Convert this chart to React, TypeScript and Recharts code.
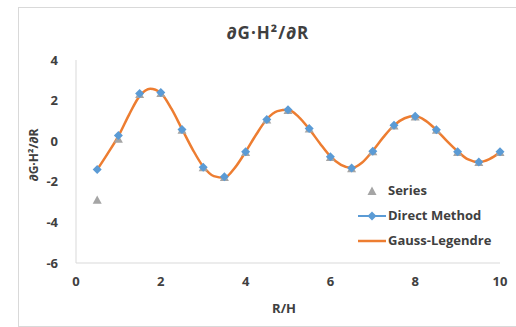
import React from 'react';
import { ComposedChart, Line, Scatter, XAxis, YAxis } from 'recharts';

// Sample positions R/H for the discrete methods
const rh = [0.5, 1, 1.5, 2, 2.5, 3, 3.5, 4, 4.5, 5, 5.5, 6, 6.5, 7, 7.5, 8, 8.5, 9, 9.5, 10];

// Direct method derivative values
const directMethod = [-1.4, 0.28, 2.35, 2.4, 0.58, -1.28, -1.75, -0.52, 1.07, 1.55, 0.62, -0.77, -1.32, -0.5, 0.78, 1.23, 0.57, -0.52, -1.02, -0.52];

// Plain series (mostly hidden beneath the direct method markers)
const seriesValues = [-2.9, 0.1, 2.3, 2.35, 0.55, -1.3, -1.78, -0.55, 1.05, 1.52, 0.6, -0.8, -1.35, -0.52, 0.75, 1.2, 0.55, -0.55, -1.05, -0.55];

// Gauss-Legendre quadrature, finer sampling
const gaussRh = [0.5, 0.75, 1, 1.25, 1.5, 1.75, 2, 2.25, 2.5, 2.75, 3, 3.25, 3.5, 3.75, 4, 4.25, 4.5, 4.75, 5, 5.25, 5.5, 5.75, 6, 6.25, 6.5, 6.75, 7, 7.25, 7.5, 7.75, 8, 8.25, 8.5, 8.75, 9, 9.25, 9.5, 9.75, 10];
const gaussValues = [-1.4, -0.6, 0.25, 1.3, 2.22, 2.58, 2.38, 1.6, 0.6, -0.4, -1.25, -1.72, -1.8, -1.3, -0.52, 0.33, 1.08, 1.48, 1.55, 1.2, 0.6, -0.1, -0.75, -1.17, -1.32, -1.05, -0.47, 0.2, 0.78, 1.13, 1.24, 1.0, 0.55, 0.0, -0.5, -0.9, -1.03, -0.88, -0.55];

const xTicks = [0, 2, 4, 6, 8, 10];
const yTicks = [-6, -4, -2, 0, 2, 4];

const BLUE = '#5B9BD5';
const ORANGE = '#ED7D31';
const GRAY = '#A5A5A5';
const TEXT = '#404040';
const FONT = '"Open Sans", "DejaVu Sans", sans-serif';

const directData = rh.map((x, i) => ({ x, y: directMethod[i] }));
const seriesData = rh.map((x, i) => ({ x, y: seriesValues[i] }));
const gaussData = gaussRh.map((x, i) => ({ x, y: gaussValues[i] }));

const Diamond = ({ cx, cy }: { cx?: number; cy?: number }) => {
  if (cx == null || cy == null) return null;
  const r = 4.5;
  return <polygon points={`${cx},${cy - r} ${cx + r},${cy} ${cx},${cy + r} ${cx - r},${cy}`} fill={BLUE} />;
};

const Triangle = ({ cx, cy }: { cx?: number; cy?: number }) => {
  if (cx == null || cy == null) return null;
  const r = 4.5;
  return <polygon points={`${cx},${cy - r} ${cx + r},${cy + r * 0.8} ${cx - r},${cy + r * 0.8}`} fill={GRAY} />;
};

const tickStyle = { fill: TEXT, fontSize: 13, fontWeight: 700, fontFamily: FONT };

export default function App() {
  return (
    <div style={{ position: 'absolute', left: 0, top: 0, width: 516, height: 327, background: '#fff', fontFamily: FONT, overflow: 'hidden' }}>
      <div style={{ position: 'absolute', left: 18, top: 7, width: 520, height: 318, border: '1px solid #D9D9D9' }} />
      <div style={{ position: 'absolute', left: 0, width: 536, top: 21, textAlign: 'center', fontSize: 17, fontWeight: 700, letterSpacing: 1, color: TEXT }}>
        ∂G·H²/∂R
      </div>
      <div style={{ position: 'absolute', left: 33, top: 155, transform: 'translate(-50%, -50%) rotate(-90deg)', whiteSpace: 'nowrap', fontSize: 12, fontWeight: 700, color: TEXT }}>
        ∂G·H²/∂R
      </div>
      <div style={{ position: 'absolute', left: 0, width: 568, top: 299, textAlign: 'center', fontSize: 13, fontWeight: 700, color: TEXT }}>
        R/H
      </div>
      <ComposedChart width={516} height={327} margin={{ top: 60, right: 16, bottom: 34, left: 36 }} style={{ position: 'absolute', left: 0, top: 0 }}>
        <XAxis
          type="number"
          dataKey="x"
          domain={[0, 10]}
          ticks={xTicks}
          height={30}
          tickSize={0}
          tickMargin={14}
          tickLine={false}
          axisLine={{ stroke: '#D9D9D9' }}
          tick={tickStyle}
          allowDuplicatedCategory={false}
        />
        <YAxis
          type="number"
          domain={[-6, 4]}
          ticks={yTicks}
          width={40}
          tickSize={0}
          tickMargin={18}
          tickLine={false}
          axisLine={{ stroke: '#D9D9D9' }}
          tick={tickStyle}
        />
        <Scatter data={seriesData} dataKey="y" shape={<Triangle />} isAnimationActive={false} />
        <Line data={directData} dataKey="y" type="monotone" stroke="none" strokeWidth={0} dot={<Diamond />} activeDot={false} isAnimationActive={false} />
        <Line data={gaussData} dataKey="y" type="monotone" stroke={ORANGE} strokeWidth={2.5} dot={false} activeDot={false} isAnimationActive={false} />
      </ComposedChart>
      <div style={{ position: 'absolute', left: 356, top: 178, fontSize: 13, fontWeight: 700, color: TEXT, lineHeight: '25px' }}>
        <div style={{ display: 'flex', alignItems: 'center' }}>
          <svg width={32} height={12}>
            <polygon points="16,1.5 20.5,10 11.5,10" fill={GRAY} />
          </svg>
          <span>Series</span>
        </div>
        <div style={{ display: 'flex', alignItems: 'center' }}>
          <svg width={32} height={12}>
            <line x1={2} y1={6} x2={30} y2={6} stroke={BLUE} strokeWidth={2} />
            <polygon points="16,1.5 20.5,6 16,10.5 11.5,6" fill={BLUE} />
          </svg>
          <span>Direct Method</span>
        </div>
        <div style={{ display: 'flex', alignItems: 'center' }}>
          <svg width={32} height={12}>
            <line x1={2} y1={6} x2={30} y2={6} stroke={ORANGE} strokeWidth={2.5} />
          </svg>
          <span>Gauss-Legendre</span>
        </div>
      </div>
    </div>
  );
}
